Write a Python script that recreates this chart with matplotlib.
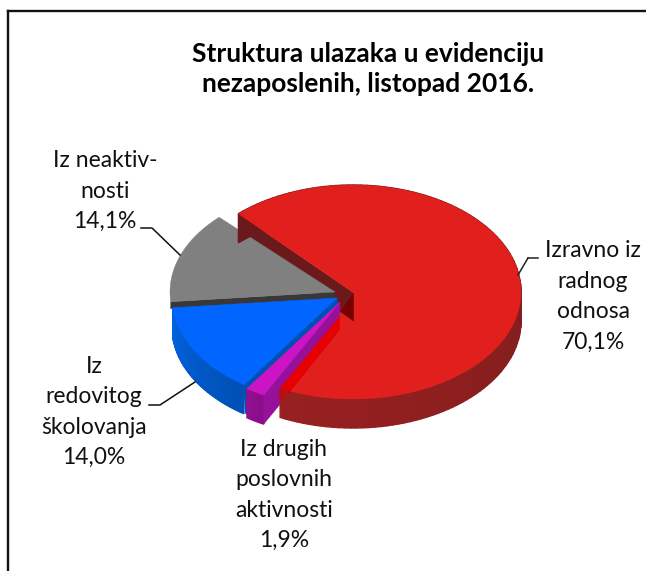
import matplotlib
matplotlib.use('Agg')
import matplotlib.pyplot as plt
import numpy as np
from matplotlib.patches import Polygon

# chart data, clockwise starting from the red slice
categories = ['Izravno iz\nradnog\nodnosa', 'Iz drugih\nposlovnih\naktivnosti',
              'Iz\nredovitog\nškolovanja', 'Iz neaktiv-\nnosti']
values = [70.1, 1.9, 14.0, 14.1]
value_labels = ['70,1%', '1,9%', '14,0%', '14,1%']
title = 'Struktura ulazaka u evidenciju\nnezaposlenih, listopad 2016.'

plt.rcParams['font.family'] = ['Lato', 'DejaVu Sans']

DEPTH = 29
START = -44.6  # degrees clockwise from 12 o'clock


def rim(cx, cy, rx, ry, a0, a1, n=160):
    t = np.radians(np.linspace(a0, a1, n))
    return np.column_stack([cx + rx * np.sin(t), cy - ry * np.cos(t)])


def poly(ax, pts, color, z, lw=0.3):
    ax.add_patch(Polygon(pts, closed=True, facecolor=color, edgecolor=color, linewidth=lw, zorder=z))


def side(ax, cx, cy, rx, ry, a0, a1, c0, c1, z, n=60):
    # outer wall, many small quads for the shading
    c0, c1 = np.array(matplotlib.colors.to_rgb(c0)), np.array(matplotlib.colors.to_rgb(c1))
    edges = np.linspace(a0, a1, n + 1)
    for i in range(n):
        top = rim(cx, cy, rx, ry, edges[i], edges[i + 1], 6)
        pts = np.vstack([top, (top + [0, DEPTH])[::-1]])
        col = c0 + (c1 - c0) * i / max(n - 1, 1)
        poly(ax, pts, tuple(col), z, lw=1.0)


fig = plt.figure(figsize=(6.46, 5.71), dpi=100, facecolor='white')
ax = fig.add_axes([0, 0, 1, 1])
ax.set_xlim(0, 646)
ax.set_ylim(571, 0)
ax.axis('off')

# frame, only the top and left show
ax.plot([7.5, 646], [11, 11], color='#111111', lw=1.7, zorder=1, solid_capstyle='projecting')
ax.plot([7.5, 7.5], [11, 571], color='#111111', lw=1.7, zorder=1, solid_capstyle='projecting')

sweeps = np.array(values) / sum(values) * 360
a = START
angles = []
for s in sweeps:
    angles.append((a, a + s))
    a += s
red, mag, blue, gray = angles

# red slice
cx, cy, rx, ry = 353, 292, 168, 107
apex = np.array([cx + 1, cy + 1])
r_start = red[0] + 1.6
r_end = red[1] - 5.8
r_face = red[1] - 1.8
p_start = rim(cx, cy, rx, ry, r_start, r_start, 1)[0]
p_end = rim(cx, cy, rx, ry, r_end, r_end, 1)[0]
p_face = rim(cx, cy, rx, ry, r_face, r_face, 1)[0]
dz = np.array([0, DEPTH])
poly(ax, [p_start, p_start + dz, apex + dz, apex], '#6b1a1c', 2)
notch = apex + [-14, 19]
poly(ax, [apex, apex + dz, notch], '#7a0000', 2.1)

# gray slice, only a thin band of its cut face stays visible
gx, gy, grx, gry = 335, 292, 165, 105
g_apex = np.array([gx, gy])
poly(ax, np.vstack([rim(gx, gy, grx, gry, gray[0], gray[1]), g_apex]), '#808080', 3)
g0 = rim(gx, gy, grx, gry, gray[0], gray[0], 1)[0]
poly(ax, [g0, g0 + [0, 7], g_apex + [0, 7], g_apex], '#383838', 2.9)

# blue slice
bx, by = 337, 298
b_apex = np.array([bx, by])
side(ax, bx, by, grx, gry, blue[0], blue[1], '#0050b4', '#0062de', 3.1)
b1 = rim(bx, by, grx, gry, blue[0], blue[0], 1)[0]
poly(ax, [b1, b1 + [2, DEPTH], b_apex + dz, b_apex], '#0050b4', 3.2, lw=1.0)
poly(ax, np.vstack([rim(bx, by, grx, gry, blue[0], blue[1]), b_apex]), '#0066ff', 3.3)

# magenta slice
mx, my = 340, 302
m_apex = np.array([mx, my])
side(ax, mx, my, grx, gry, mag[0], mag[1], '#8a0c8a', '#901090', 4, n=8)
m0 = rim(mx, my, grx, gry, mag[0], mag[0], 1)[0]
poly(ax, [m0, m0 + dz, m_apex + dz, m_apex], '#96109a', 4.1)
poly(ax, np.vstack([rim(mx, my, grx, gry, mag[0], mag[1]), m_apex]), '#cc14c4', 4.2)

# red wall, bright cut face and top go over the magenta strip
side(ax, cx, cy, rx, ry, r_start, r_face, '#6a1a1c', '#982020', 5, n=120)
low = apex + dz + [-14, 8]
poly(ax, [p_face, notch + [0, 4], low, p_end, p_face + [0, 12]], '#e60000', 5.1)
poly(ax, [p_face, p_end, p_face + [0, 12]], '#b81010', 5.2)
top = np.vstack([rim(cx, cy, rx, ry, r_start, r_end), low, notch, apex + dz, apex])
poly(ax, top, '#e1201e', 5.3)

# leader lines
ax.plot([528, 538], [258, 258], color='#222222', lw=1.1, zorder=6)
ax.plot([528, 518], [258, 275], color='#222222', lw=1.1, zorder=6)
ax.plot([141, 152, 180], [228, 228, 255], color='#111111', lw=1.1, zorder=6)
ax.plot([149, 160, 195], [405, 405, 382], color='#111111', lw=1.1, zorder=6)

# labels
label_pos = [(593, 296.5), (284, 495), (94, 412), (105, 191)]
for cat, val, (x, y) in zip(categories, value_labels, label_pos):
    ax.text(x, y, cat + '\n' + val, ha='center', va='center', fontsize=16.5,
            color='#111111', linespacing=1.55, zorder=7)

ax.text(368.5, 69, title, ha='center', va='center', fontsize=19, fontweight='bold',
        color='black', linespacing=1.3, zorder=7)

fig.savefig('out.png', dpi=100)
plt.close(fig)
